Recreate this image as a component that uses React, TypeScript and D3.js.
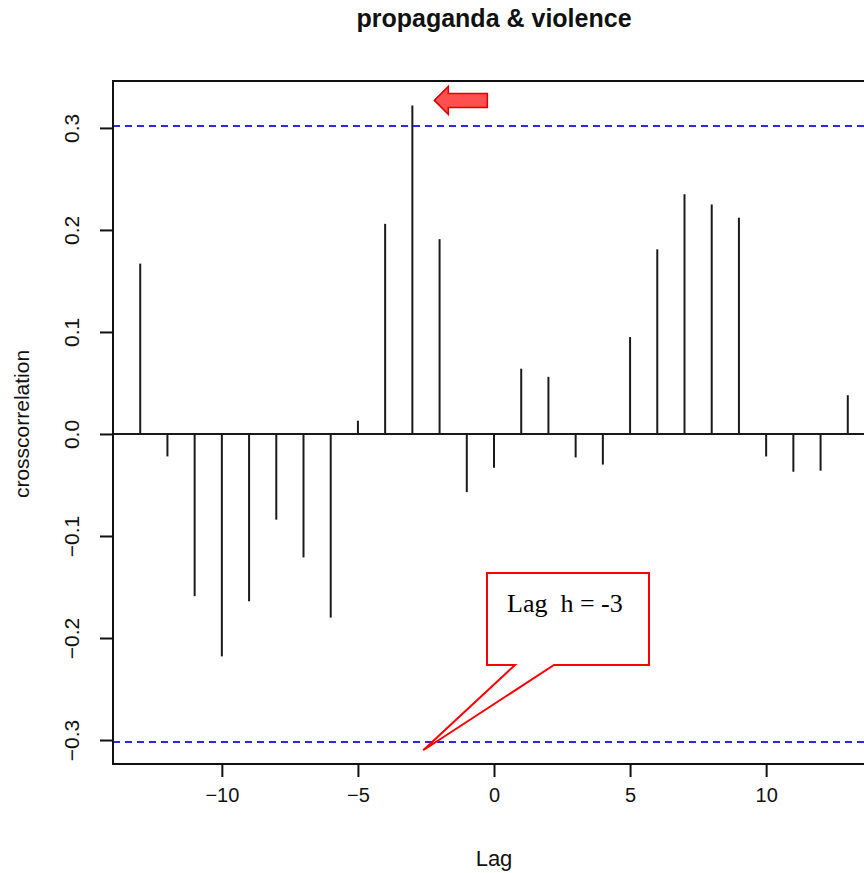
import React, { useRef, useEffect } from "react";
import * as d3 from "d3";

const lags = [
  -13, -12, -11, -10, -9, -8, -7, -6, -5, -4, -3, -2, -1, 0, 1, 2, 3, 4, 5, 6,
  7, 8, 9, 10, 11, 12, 13,
];
const ccfValues = [
  0.167, -0.022, -0.159, -0.218, -0.164, -0.084, -0.121, -0.18, 0.013, 0.206,
  0.322, 0.191, -0.057, -0.033, 0.064, 0.056, -0.023, -0.03, 0.095, 0.181,
  0.235, 0.225, 0.212, -0.022, -0.037, -0.036, 0.038,
];
const xTicks = [-10, -5, 0, 5, 10];
const yTicks = [-0.3, -0.2, -0.1, 0.0, 0.1, 0.2, 0.3];
const ciBound = 0.302;

const App = () => {
  const svgRef = useRef<SVGSVGElement>(null);

  useEffect(() => {
    const w = 864;
    const h = 873;
    const margin = { top: 81, right: -11, bottom: 109, left: 113 };
    const svg = d3.select(svgRef.current).attr("width", w).attr("height", h);
    svg.selectAll("*").remove();

    const x = d3
      .scaleLinear()
      .domain([-14, 14])
      .range([margin.left, w - margin.right]);
    const y = d3
      .scaleLinear()
      .domain([-0.3235, 0.346])
      .range([h - margin.bottom, margin.top]);

    const font = "'Liberation Sans', Arial, sans-serif";

    // spikes
    svg
      .append("g")
      .selectAll("line")
      .data(lags)
      .enter()
      .append("line")
      .attr("x1", (d) => x(d))
      .attr("x2", (d) => x(d))
      .attr("y1", y(0))
      .attr("y2", (d, i) => y(ccfValues[i]))
      .attr("stroke", "#1a1a1a")
      .attr("stroke-width", 2);

    // zero line
    svg
      .append("line")
      .attr("x1", x(-14))
      .attr("x2", x(14))
      .attr("y1", y(0))
      .attr("y2", y(0))
      .attr("stroke", "#1a1a1a")
      .attr("stroke-width", 2);

    // confidence bounds
    [ciBound, -ciBound].forEach((v) => {
      svg
        .append("line")
        .attr("x1", x(-14))
        .attr("x2", x(14))
        .attr("y1", y(v))
        .attr("y2", y(v))
        .attr("stroke", "#2a2ae0")
        .attr("stroke-width", 2)
        .attr("stroke-dasharray", "7,5");
    });

    // frame
    svg
      .append("rect")
      .attr("x", x(-14))
      .attr("y", margin.top)
      .attr("width", x(14) - x(-14))
      .attr("height", h - margin.bottom - margin.top)
      .attr("fill", "none")
      .attr("stroke", "#111")
      .attr("stroke-width", 2);

    // x axis
    const xAxis = d3
      .axisBottom(x)
      .tickValues(xTicks)
      .tickSize(13)
      .tickPadding(11)
      .tickFormat((d) => d3.format("d")(d as number).replace("-", "\u2212"));
    const gx = svg
      .append("g")
      .attr("transform", `translate(0, ${h - margin.bottom})`)
      .call(xAxis);
    gx.select(".domain").remove();
    gx.selectAll(".tick line").attr("stroke", "#111").attr("stroke-width", 2);
    gx.selectAll(".tick text")
      .attr("font-size", "20px")
      .attr("font-family", font)
      .attr("fill", "#111");

    // y axis
    const yAxis = d3
      .axisLeft(y)
      .tickValues(yTicks)
      .tickSize(13)
      .tickFormat((d) => d3.format(".1f")(d as number).replace("-", "\u2212"));
    const gy = svg
      .append("g")
      .attr("transform", `translate(${margin.left}, 0)`)
      .call(yAxis);
    gy.select(".domain").remove();
    gy.selectAll(".tick line").attr("stroke", "#111").attr("stroke-width", 2);
    gy.selectAll(".tick text")
      .attr("font-size", "21px")
      .attr("font-family", font)
      .attr("fill", "#111")
      .attr("x", 0)
      .attr("dy", 0)
      .attr("text-anchor", "middle")
      .attr("transform", "translate(-34, 0) rotate(-90)");

    // title and axis labels
    svg
      .append("text")
      .attr("x", x(0))
      .attr("y", 27)
      .attr("text-anchor", "middle")
      .attr("font-family", font)
      .attr("font-weight", "bold")
      .attr("font-size", "25px")
      .attr("fill", "#111")
      .text("propaganda & violence");

    svg
      .append("text")
      .attr("x", x(0))
      .attr("y", 866)
      .attr("text-anchor", "middle")
      .attr("font-family", font)
      .attr("font-size", "22px")
      .attr("fill", "#111")
      .text("Lag");

    svg
      .append("text")
      .attr("transform", `translate(29, ${y(0) - 10}) rotate(-90)`)
      .attr("text-anchor", "middle")
      .attr("font-family", font)
      .attr("font-size", "21px")
      .attr("fill", "#111")
      .text("crosscorrelation");

    // red arrow pointing at lag -3
    const ax = x(-3) + 22;
    const ay = y(0.327);
    const arrow = [
      [ax, ay],
      [ax + 14, ay - 14],
      [ax + 14, ay - 7],
      [ax + 53, ay - 7],
      [ax + 53, ay + 7],
      [ax + 14, ay + 7],
      [ax + 14, ay + 14],
    ];
    svg
      .append("polygon")
      .attr("points", arrow.map((p) => p.join(",")).join(" "))
      .attr("fill", "#ff5050")
      .attr("stroke", "#e00000")
      .attr("stroke-width", 1.5);

    // callout
    const bx = 487;
    const by = 573;
    const bw = 162;
    const bh = 92;
    const tipX = x(-2.6);
    const tipY = y(-0.31);
    const callout = [
      [bx, by],
      [bx + bw, by],
      [bx + bw, by + bh],
      [bx + 67, by + bh],
      [tipX, tipY],
      [bx + 28, by + bh],
      [bx, by + bh],
    ];
    svg
      .append("polygon")
      .attr("points", callout.map((p) => p.join(",")).join(" "))
      .attr("fill", "#fff")
      .attr("stroke", "#ff0000")
      .attr("stroke-width", 2);

    svg
      .append("text")
      .attr("x", bx + 20)
      .attr("y", by + 39)
      .attr("font-family", "'Liberation Serif', 'Times New Roman', serif")
      .attr("font-size", "26px")
      .attr("fill", "#000")
      .attr("xml:space", "preserve")
      .style("white-space", "pre")
      .text("Lag  h = -3");
  }, []);

  return (
    <div style={{ position: "absolute", left: 0, top: 0, background: "#fff" }}>
      <svg ref={svgRef} style={{ display: "block" }}></svg>
    </div>
  );
};

export default App;
